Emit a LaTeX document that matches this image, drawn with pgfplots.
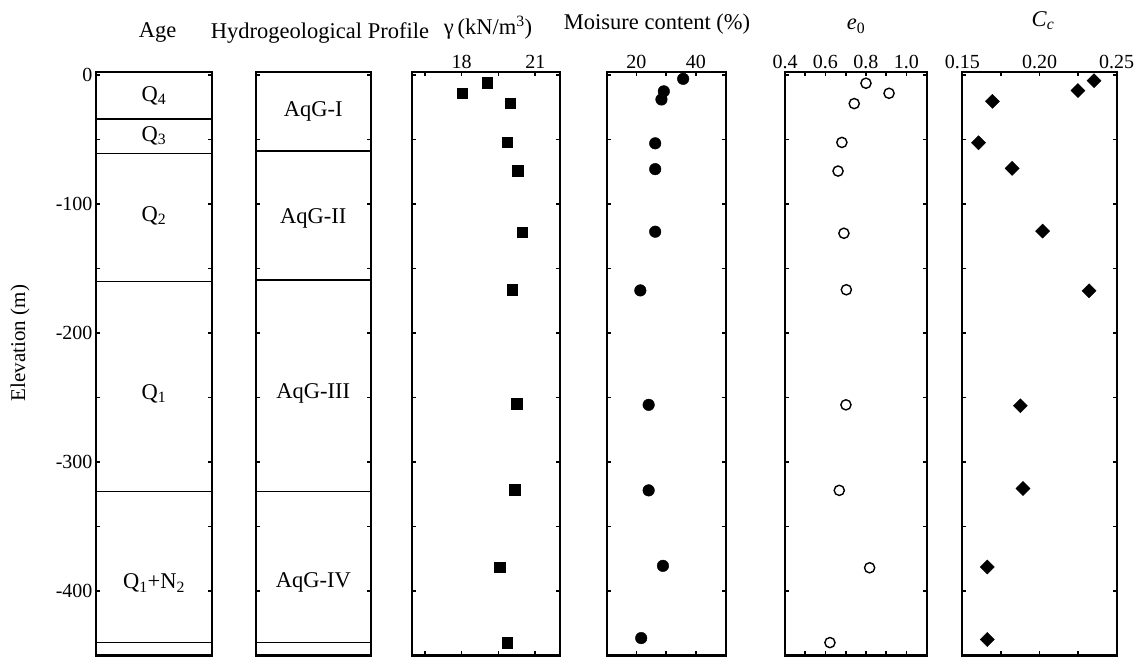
\documentclass[border=0pt]{standalone}
\usepackage{fontspec}
\setmainfont{Liberation Serif}
\usepackage{pgfplots}
\pgfplotsset{compat=1.18}

\newcommand{\titlefont}{\fontsize{22.5bp}{26bp}\selectfont}
\newcommand{\tickfont}{\fontsize{20bp}{24bp}\selectfont}

\tikzset{
  sep/.style={line width=1.6bp, black},
  lab/.style={font=\titlefont, anchor=center},
}
\pgfplotsset{
  panel/.style={
    scale only axis, anchor=south west,
    height=583.5bp, ymin=-450, ymax=2.3,
    axis line style={line width=2.3bp, black},
    every tick/.style={line width=1.8bp, black},
    tick align=inside,
    major tick length=4bp, minor tick length=4bp,
    ytick={-400,-300,-200,-100,0},
    minor ytick={-350,-250,-150,-50},
    yticklabels={},
    tick label style={font=\tickfont},
    xticklabel pos=right,
    clip=false,
  },
}

\begin{document}
\begin{tikzpicture}
\useasboundingbox (0,0) rectangle (1140bp,657bp);

% Age panel
\begin{axis}[panel, at={(96bp,1.5bp)}, width=116bp, xmin=0, xmax=1, xtick=\empty,
  yticklabels={-400,-300,-200,-100,0}]
  \addplot[sep] coordinates {(0,-34) (1,-34)};
  \addplot[sep] coordinates {(0,-61) (1,-61)};
  \addplot[sep] coordinates {(0,-160) (1,-160)};
  \addplot[sep] coordinates {(0,-323) (1,-323)};
  \addplot[sep] coordinates {(0,-440) (1,-440)};
  \node[lab] at (axis cs:0.5,-16) {Q\textsubscript{4}};
  \node[lab] at (axis cs:0.5,-47) {Q\textsubscript{3}};
  \node[lab] at (axis cs:0.5,-109) {Q\textsubscript{2}};
  \node[lab] at (axis cs:0.5,-247) {Q\textsubscript{1}};
  \node[lab] at (axis cs:0.5,-394) {Q\textsubscript{1}+N\textsubscript{2}};
\end{axis}

% Hydrogeological profile panel
\begin{axis}[panel, at={(255.7bp,1.5bp)}, width=115.3bp, xmin=0, xmax=1, xtick=\empty]
  \addplot[sep] coordinates {(0,-59) (1,-59)};
  \addplot[sep] coordinates {(0,-159) (1,-159)};
  \addplot[sep] coordinates {(0,-323) (1,-323)};
  \addplot[sep] coordinates {(0,-440) (1,-440)};
  \node[lab] at (axis cs:0.5,-28) {AqG-I};
  \node[lab] at (axis cs:0.5,-111) {AqG-II};
  \node[lab] at (axis cs:0.5,-247) {AqG-III};
  \node[lab] at (axis cs:0.5,-393) {AqG-IV};
\end{axis}

% gamma
\begin{axis}[panel, at={(412.3bp,1.5bp)}, width=147.7bp, xmin=16, xmax=22,
  xtick={16.5,18,19.5,21}, xticklabels={,18,,21}]
  \addplot[only marks, mark=square*, mark size=5.3bp, black] coordinates {
    (19.04,-6) (18.03,-14) (19.97,-22) (19.85,-52) (20.27,-74) (20.47,-122)
    (20.05,-166.5) (20.23,-255) (20.16,-321.5) (19.54,-381.5) (19.85,-440)};
\end{axis}

% moisture content
\begin{axis}[panel, at={(606.7bp,1.5bp)}, width=119bp, xmin=10, xmax=50,
  xtick={20,30,40}, xticklabels={20,,40}]
  \addplot[only marks, mark=*, mark size=5.8bp, black] coordinates {
    (35.7,-3) (29.2,-12.7) (28.4,-19) (26.3,-53) (26.3,-73) (26.3,-121.5)
    (21.3,-167) (24.1,-255.7) (24.1,-322) (28.9,-380.5) (21.6,-436.5)};
\end{axis}

% e0
\begin{axis}[panel, at={(785bp,1.5bp)}, width=141.7bp, xmin=0.4, xmax=1.1,
  xtick={0.4,0.5,0.6,0.7,0.8,0.9,1.0,1.1}, xticklabels={0.4,,0.6,,0.8,,1.0,}]
  \addplot[only marks, mark=o, mark size=5.1bp, black,
    mark options={line width=1.4bp, fill=white}] coordinates {
    (0.80,-6.4) (0.914,-14.2) (0.742,-22.2) (0.681,-52.3) (0.662,-74.5)
    (0.691,-122.7) (0.703,-166.5) (0.701,-255.7) (0.668,-322) (0.818,-382)
    (0.622,-440)};
\end{axis}

% Cc
\begin{axis}[panel, at={(962.3bp,1.5bp)}, width=154.4bp, xmin=0.15, xmax=0.25,
  xtick={0.15,0.175,0.2,0.225,0.25}, xticklabels={0.15,,0.20,,0.25}]
  \addplot[only marks, mark=square*, mark size=5bp, black,
    mark options={rotate=45}] coordinates {
    (0.2353,-4.4) (0.2249,-12.1) (0.1695,-20.4) (0.1605,-52.6) (0.1823,-72.4)
    (0.2020,-121) (0.2321,-167.3) (0.1876,-256.4) (0.1893,-320.6)
    (0.1662,-381.4) (0.1662,-437.6)};
\end{axis}

% headers
\node[anchor=base, font=\titlefont] at (157.5bp,619.5bp) {Age};
\node[anchor=base, font=\titlefont] at (320bp,618.3bp) {Hydrogeological Profile};
\node[anchor=base, font=\titlefont] at (488bp,622.7bp) {γ\,(kN/m\textsuperscript{3})};
\node[anchor=base, font=\titlefont] at (657bp,627.7bp) {Moisure content (\%)};
\node[anchor=base, font=\titlefont] at (856bp,627bp) {\textit{e}\textsubscript{0}};
\node[anchor=base, font=\titlefont] at (1043bp,630.3bp) {\textit{C}\textsubscript{\textit{c}}};
\node[rotate=90, font=\fontsize{21bp}{25bp}\selectfont] at (20bp,314bp) {Elevation (m)};
\end{tikzpicture}
\end{document}
